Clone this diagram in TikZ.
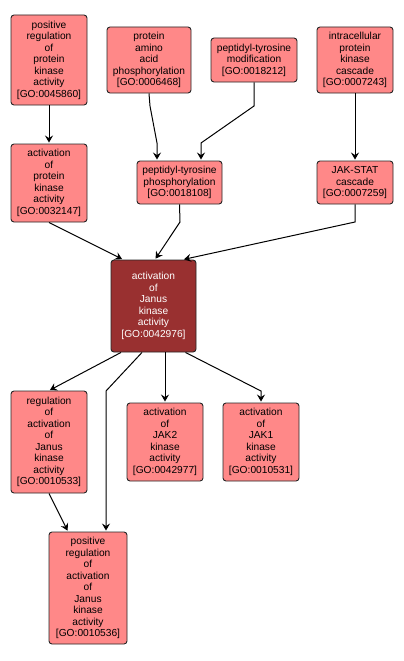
\documentclass[tikz,border=0pt]{standalone}
\usepackage{fontspec}
\setmainfont{Liberation Sans}
\usepackage{tikz}
\usetikzlibrary{arrows.meta}

\definecolor{termfill}{RGB}{255,136,136}
\definecolor{focusfill}{RGB}{153,48,48}

\begin{document}
\begin{tikzpicture}[x=1pt, y=-1pt,
		term/.style={draw=black!85, fill=termfill, rounded corners=3pt, line width=0.9pt,
			align=center, inner sep=0pt, font=\fontsize{10.2}{11.5}\selectfont},
		focus/.style={term, fill=focusfill, text=white},
		link/.style={->, line width=1pt, shorten >=1pt},
		>={Stealth[length=7pt, width=8pt, inset=2.5pt]}]
		\useasboundingbox (0,0) rectangle (404,661);
		% top row
		\node[term, minimum width=76pt, minimum height=90pt] (posreg) at (49,60)
			{positive\\regulation\\of\\protein\\kinase\\activity\\{[GO:0045860]}};
		\node[term, minimum width=84pt, minimum height=66pt] (aaphos) at (149,60)
			{protein\\amino\\acid\\phosphorylation\\{[GO:0006468]}};
		\node[term, minimum width=86pt, minimum height=44pt] (ptmod) at (254,60)
			{peptidyl-tyrosine\\modification\\{[GO:0018212]}};
		\node[term, minimum width=76pt, minimum height=66pt] (ipkc) at (355,60)
			{intracellular\\protein\\kinase\\cascade\\{[GO:0007243]}};
		% second row
		\node[term, minimum width=76pt, minimum height=78pt] (actpk) at (49,183)
			{activation\\of\\protein\\kinase\\activity\\{[GO:0032147]}};
		\node[term, minimum width=85pt, minimum height=43pt] (ptyr) at (179.5,182.5)
			{peptidyl-tyrosine\\phosphorylation\\{[GO:0018108]}};
		\node[term, minimum width=76pt, minimum height=43pt] (jakstat) at (355,182.5)
			{JAK-STAT\\cascade\\{[GO:0007259]}};
		% focus term
		\node[focus, minimum width=85pt, minimum height=92pt] (ajk) at (153.5,306)
			{activation\\of\\Janus\\kinase\\activity\\{[GO:0042976]}};
		% children
		\node[term, minimum width=76pt, minimum height=102pt] (regajk) at (49,442)
			{regulation\\of\\activation\\of\\Janus\\kinase\\activity\\{[GO:0010533]}};
		\node[term, minimum width=76pt, minimum height=78pt] (jak2) at (165,442)
			{activation\\of\\JAK2\\kinase\\activity\\{[GO:0042977]}};
		\node[term, minimum width=76pt, minimum height=78pt] (jak1) at (261,442)
			{activation\\of\\JAK1\\kinase\\activity\\{[GO:0010531]}};
		\node[term, minimum width=78pt, minimum height=112pt] (posajk) at (88,588)
			{positive\\regulation\\of\\activation\\of\\Janus\\kinase\\activity\\{[GO:0010536]}};
		% connectors
		\path[link]
		(posreg) edge (actpk)
		(ipkc) edge (jakstat)
		(actpk.south) edge ([xshift=-30.5pt]ajk.north)
		([xshift=-32.5pt]ajk.south) edge (regajk.north)
		(ajk.south -| jak2.north) edge (jak2.north)
		(regajk.south) edge ([xshift=-20pt]posajk.north);
		\draw[link] (aaphos.south) -- (150,106) -- (157,143) -- ([xshift=-22.5pt]ptyr.north);
		\draw[link] (ptmod.south) -- (254,106) -- (201,143) -- ([xshift=21.5pt]ptyr.north);
		\draw[link] (ptyr.south) -- (180,222) -- ([xshift=1.5pt]ajk.north);
		\draw[link] (jakstat.south) -- (355,222) -- ([xshift=29.5pt]ajk.north);
		\draw[link] ([xshift=-11.5pt]ajk.south) -- (106,391) -- ([xshift=18pt]posajk.north);
		\draw[link] ([xshift=32pt]ajk.south) -- (261,391) -- (jak1.north);
	\end{tikzpicture}
\end{document}
